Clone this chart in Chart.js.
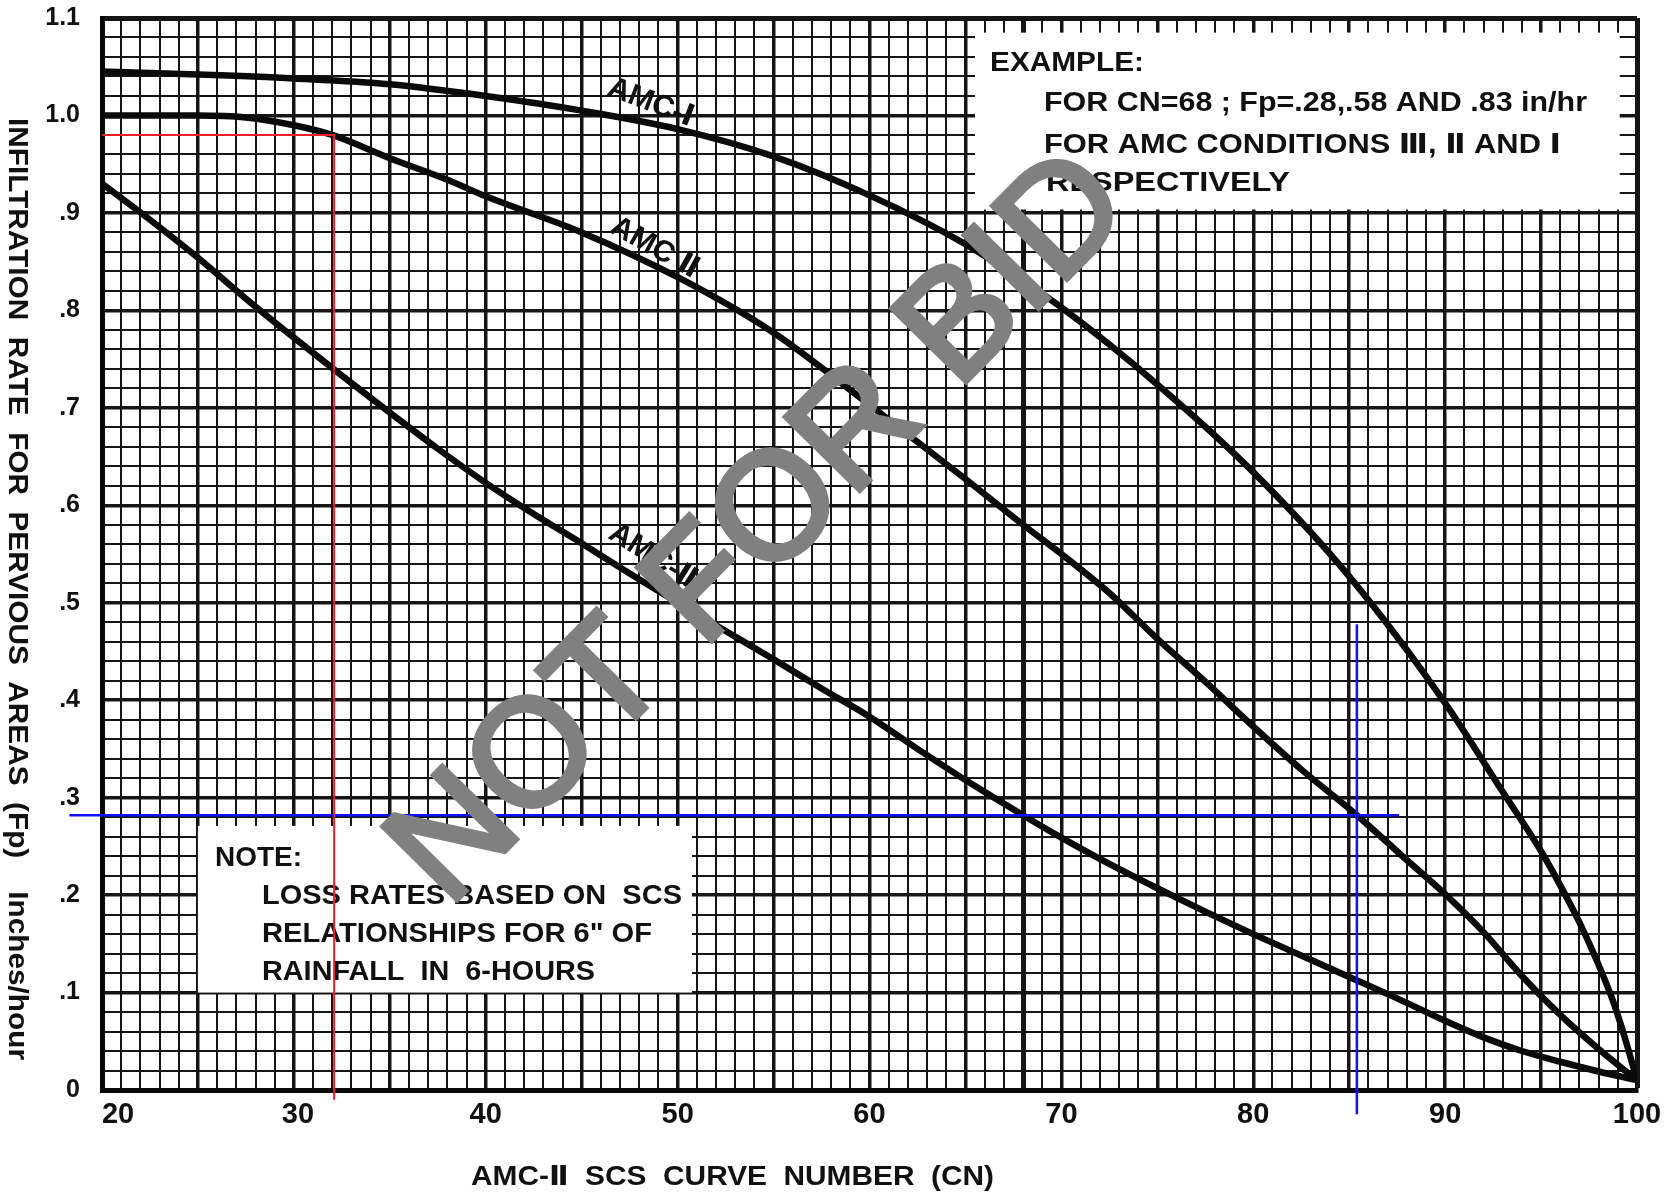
<!DOCTYPE html>
<html>
<head>
<meta charset="utf-8">
<title>Infiltration rate for pervious areas</title>
<script src="https://cdn.jsdelivr.net/npm/chart.js@4/dist/chart.umd.min.js"></script>
<style>
  html, body { margin: 0; padding: 0; background: #ffffff; }
  canvas { display: block; }
</style>
</head>
<body>
<canvas id="chart" width="1679" height="1196"></canvas>
<script>
// AMC-I curve (dry antecedent moisture)
const cnAmc1 = [20, 25, 30, 35, 40, 45, 50, 55, 60, 65, 68, 70, 75, 80, 85, 90, 93, 95, 96, 97, 97.9, 98.7, 99.3, 100];
const fpAmc1 = [1.045, 1.042, 1.038, 1.032, 1.020, 1.005, 0.986, 0.958, 0.918, 0.868, 0.830, 0.803, 0.724, 0.634, 0.527, 0.397, 0.306, 0.245, 0.210, 0.172, 0.133, 0.094, 0.058, 0.010];

// AMC-II curve (average antecedent moisture)
const cnAmc2 = [20, 25, 27.5, 30, 32, 35, 38, 40, 45, 50, 55, 60, 65, 68, 70, 72.5, 75, 77.5, 80, 82.5, 85.4, 88, 90, 92, 94, 96, 98, 100];
const fpAmc2 = [1.000, 1.000, 0.998, 0.990, 0.980, 0.956, 0.934, 0.917, 0.880, 0.834, 0.777, 0.703, 0.627, 0.580, 0.550, 0.510, 0.463, 0.419, 0.373, 0.329, 0.282, 0.236, 0.201, 0.162, 0.117, 0.077, 0.042, 0.010];

// AMC-III curve (wet antecedent moisture)
const cnAmc3 = [20, 22.5, 25, 27.5, 30, 32.5, 35, 37.5, 40, 42.5, 45, 47.5, 50, 52.5, 55, 57.5, 60, 62.5, 65, 68, 70, 72.5, 75, 77.5, 80, 82.5, 85, 87.5, 90, 92, 94, 96, 98, 100];
const fpAmc3 = [0.930, 0.893, 0.854, 0.812, 0.772, 0.733, 0.695, 0.658, 0.623, 0.591, 0.561, 0.530, 0.500, 0.471, 0.442, 0.412, 0.383, 0.350, 0.318, 0.282, 0.259, 0.232, 0.207, 0.183, 0.160, 0.138, 0.116, 0.094, 0.071, 0.054, 0.040, 0.029, 0.019, 0.010];

// Worked-example guide lines (red: CN 32 read-off, blue: Fp = .28 read-off)
const redGuideCn = [20, 32.1, 32.1];
const redGuideFp = [0.98, 0.98, -0.01];
const blueGuideCn = [18.3, 87.6, null, 85.4, 85.4];
const blueGuideFp = [0.282, 0.282, null, 0.478, -0.025];

// Tick labels
const xTickLabels = { 20: '    20', 30: ' 30', 40: '40', 50: '50', 60: '60', 70: '70', 80: '80', 90: '90', 100: '100' };
const yTickLabels = ['0', '.1', '.2', '.3', '.4', '.5', '.6', '.7', '.8', '.9', '1.0', '1.1'];

// Curve names
const curveNames = ['AMC-\u2160', 'AMC \u2161', 'AMC-\u2162'];

const exampleLines = [
  'EXAMPLE:',
  'FOR CN=68 ; Fp=.28,.58 AND .83 in/hr',
  'FOR AMC CONDITIONS \u2162, \u2161 AND \u2160',
  'RESPECTIVELY'
];
const noteLines = [
  'NOTE:',
  'LOSS RATES BASED ON  SCS',
  'RELATIONSHIPS FOR 6" OF',
  'RAINFALL  IN  6-HOURS'
];

const FONT = "'Liberation Sans', 'DejaVu Sans', sans-serif";

function pts(xs, ys) {
  return xs.map((x, i) => (x === null ? { x: NaN, y: null } : { x: x, y: ys[i] }));
}

// Draws text squeezed or stretched horizontally to a given width
function fitText(ctx, text, x, y, width) {
  const w = ctx.measureText(text).width;
  ctx.save();
  ctx.translate(x, y);
  ctx.scale(width / w, 1);
  ctx.fillText(text, 0, 0);
  ctx.restore();
}

const chartDecor = {
  id: 'chartDecor',
  beforeDatasetsDraw(chart) {
    const { ctx, scales: { x, y } } = chart;
    ctx.save();
    // white panels for the example and the note
    ctx.fillStyle = '#ffffff';
    const boxes = [
      [65.5, 1.085, 99.1, 0.9035],
      [25.0, 0.271, 50.75, 0.100]
    ];
    boxes.forEach(([x0, y0, x1, y1]) => {
      const px0 = x.getPixelForValue(x0), px1 = x.getPixelForValue(x1);
      const py0 = y.getPixelForValue(y0), py1 = y.getPixelForValue(y1);
      ctx.fillRect(px0, py0, px1 - px0, py1 - py0);
    });
    ctx.fillStyle = '#111111';
    ctx.textBaseline = 'middle';
    ctx.textAlign = 'left';
    ctx.font = 'bold 27px ' + FONT;
    const exPos = [[990, 64, 154], [1044, 104, 543], [1044, 146, 517], [1046, 184, 244]];
    exampleLines.forEach((t, i) => fitText(ctx, t, exPos[i][0], exPos[i][1], exPos[i][2]));
    const notePos = [[215, 859, 87], [262, 897, 420], [262, 935, 390], [262, 973, 333]];
    noteLines.forEach((t, i) => fitText(ctx, t, notePos[i][0], notePos[i][1], notePos[i][2]));
    ctx.restore();
  },
  afterDatasetsDraw(chart) {
    const { ctx, scales: { x, y } } = chart;
    ctx.save();
    ctx.fillStyle = '#111111';
    ctx.textAlign = 'center';
    ctx.textBaseline = 'middle';
    // curve names written along each curve
    const labelPos = [[48.6, 1.013, 21], [48.8, 0.864, 29], [48.9, 0.545, 32]];
    ctx.font = 'bold 30px ' + FONT;
    curveNames.forEach((t, i) => {
      const [cx, cy, ang] = labelPos[i];
      ctx.save();
      ctx.translate(x.getPixelForValue(cx), y.getPixelForValue(cy));
      ctx.rotate(ang * Math.PI / 180);
      ctx.fillText(t, 0, 0);
      ctx.restore();
    });

    // axis titles
    ctx.textAlign = 'left';
    ctx.font = 'bold 27px ' + FONT;
    ctx.save();
    ctx.translate(16, 118);
    ctx.rotate(Math.PI / 2);
    fitText(ctx, 'INFILTRATION  RATE  FOR  PERVIOUS  AREAS  (Fp)    Inches/hour', 0, 0, 942);
    ctx.restore();
    fitText(ctx, 'AMC-\u2161  SCS  CURVE  NUMBER  (CN)', 471, 1178, 523);

    // stamp across the chart
    ctx.save();
    ctx.translate(762, 530);
    ctx.rotate(-45.5 * Math.PI / 180);
    ctx.fillStyle = '#808080';
    ctx.strokeStyle = '#808080';
    ctx.lineWidth = 5;
    ctx.lineJoin = 'miter';
    ctx.textAlign = 'center';
    ctx.textBaseline = 'middle';
    ctx.font = '152px ' + FONT;
    ctx.strokeText('NOT FOR BID', 0, 0);
    ctx.fillText('NOT FOR BID', 0, 0);
    ctx.restore();
    ctx.restore();
  }
};

const curveStyle = {
  borderColor: '#0a0a0a',
  borderWidth: 6.5,
  pointRadius: 0,
  cubicInterpolationMode: 'monotone',
  fill: false
};

new Chart(document.getElementById('chart'), {
  type: 'line',
  data: {
    datasets: [
      { label: 'red guide', data: pts(redGuideCn, redGuideFp), borderColor: '#e8202c', borderWidth: 2, pointRadius: 0, tension: 0, clip: false },
      { label: 'blue guide', data: pts(blueGuideCn, blueGuideFp), borderColor: '#1010ff', borderWidth: 2.5, pointRadius: 0, tension: 0, spanGaps: false, clip: false },
      Object.assign({ label: curveNames[0], data: pts(cnAmc1, fpAmc1) }, curveStyle),
      Object.assign({ label: curveNames[1], data: pts(cnAmc2, fpAmc2) }, curveStyle),
      Object.assign({ label: curveNames[2], data: pts(cnAmc3, fpAmc3) }, curveStyle)
    ]
  },
  options: {
    responsive: false,
    devicePixelRatio: 1,
    animation: false,
    layout: { padding: { left: 0, right: 42, top: 18, bottom: 0 } },
    plugins: { legend: { display: false }, tooltip: { enabled: false } },
    scales: {
      x: {
        type: 'linear',
        min: 20,
        max: 100,
        afterFit: (s) => { s.height = 106; s.paddingLeft = 0; s.paddingRight = 0; },
        border: { display: true, color: '#0a0a0a', width: 5 },
        grid: {
          color: '#151515',
          drawTicks: false,
          lineWidth: (c) => {
            const v = Math.round(c.tick.value);
            if (v === 100) return 5;
            if (v === 68) return 5;
            return v % 5 === 0 ? 3.5 : 2;
          }
        },
        ticks: {
          stepSize: 1,
          autoSkip: false,
          maxRotation: 0,
          padding: 8,
          color: '#111111',
          font: { family: FONT, size: 29, weight: 'bold' },
          callback: (v) => xTickLabels[Math.round(v)] || ''
        }
      },
      y: {
        type: 'linear',
        min: 0,
        max: 1.1,
        afterFit: (s) => { s.width = 102; s.paddingTop = 0; s.paddingBottom = 0; },
        border: { display: true, color: '#0a0a0a', width: 5 },
        grid: {
          color: '#151515',
          drawTicks: false,
          lineWidth: (c) => {
            const k = Math.round(c.tick.value / 0.02);
            if (k === 55) return 5;
            return k % 5 === 0 ? 3.5 : 2;
          }
        },
        ticks: {
          stepSize: 0.02,
          autoSkip: false,
          padding: 22,
          color: '#111111',
          font: { family: FONT, size: 25, weight: 'bold' },
          callback: (v) => {
            const k = Math.round(v / 0.02);
            return k % 5 === 0 ? (yTickLabels[k / 5] || '') : '';
          }
        }
      }
    }
  },
  plugins: [chartDecor]
});
</script>
</body>
</html>
